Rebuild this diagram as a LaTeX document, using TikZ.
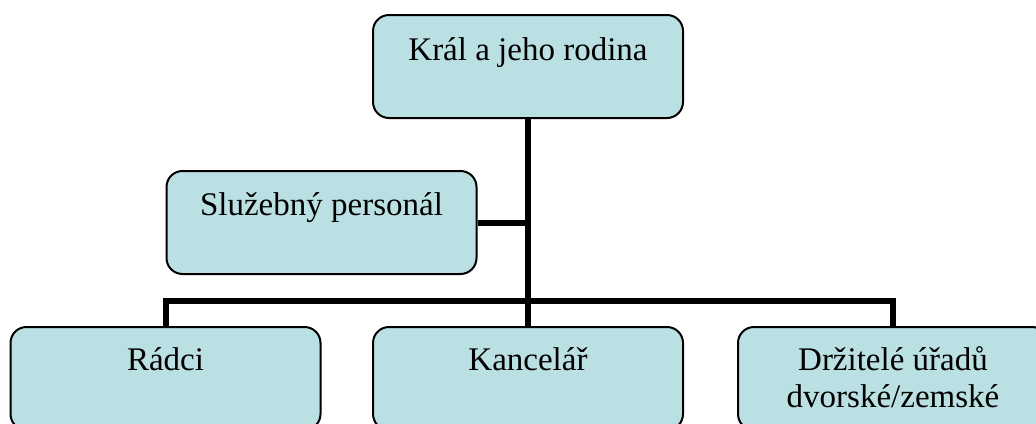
\documentclass[tikz,border=0pt]{standalone}
\usepackage{fontspec}
\setmainfont{Liberation Serif}
\usetikzlibrary{positioning}
\definecolor{boxfill}{RGB}{187,224,227}
\tikzset{
  orgbox/.style={draw, line width=2pt, fill=boxfill, rounded corners=16pt,
    minimum width=310pt, minimum height=103pt, inner sep=0pt,
    text height=24pt, text depth=38pt, align=center,
    font=\fontsize{33}{37}\selectfont},
  link/.style={line width=6pt}
}
\begin{document}
\begin{tikzpicture}[x=1pt,y=1pt]
\useasboundingbox (0,0) rectangle (1036,-423);
\node[orgbox, text depth=37pt] (kral) at (528,-66.5) {Král a jeho rodina};
\node[orgbox, text depth=39pt] (sluz) at (321.5,-222.5) {Služebný personál};
\node[orgbox, text depth=41pt] (radci) at (165.5,-378.5) {Rádci};
\node[orgbox, text depth=41pt] (kanc) at (528,-378.5) {Kancelář};
\node[orgbox, text height=61pt, text depth=4pt] (drz) at (893,-378.5) {Držitelé úřadů\\dvorské/zemské};

\draw[link] (kral.south) -- (kanc.north);
\draw[link] (sluz.east) -- (sluz.east -| kral.south);
\draw[link] (radci.north) -- ++(0,25) -| (drz.north);
\end{tikzpicture}
\end{document}
